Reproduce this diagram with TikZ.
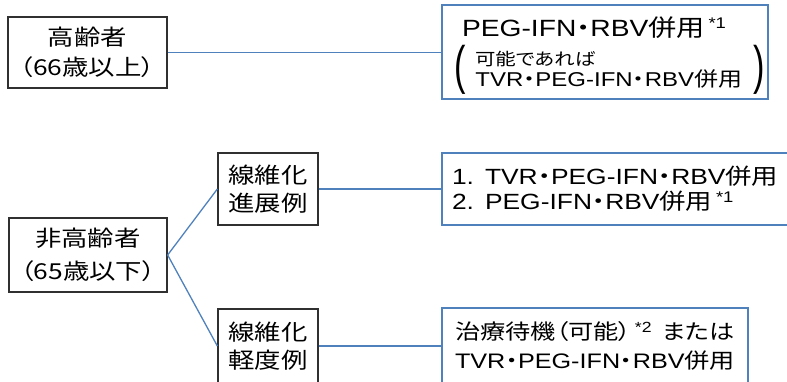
\documentclass[tikz,border=0pt]{standalone}
\usepackage{fontspec}
\setmainfont[FakeStretch=1.2]{Liberation Sans}
\newfontfamily\jpfont[FakeStretch=1.2,RawFeature=+palt]{Noto Sans CJK JP}
\usetikzlibrary{positioning}
\definecolor{lineBlue}{HTML}{4F81BD}
\definecolor{boxGray}{HTML}{303030}
\newcommand{\jp}[1]{{\jpfont #1}}
\newcommand{\jdot}{\jp{・}}
% tall bracket for the optional line pair
\newcommand{\tallparen}[1]{\raisebox{3pt}[0pt][0pt]{\scalebox{1.3}[2.4]{#1}}}

\begin{document}
\begin{tikzpicture}[x=1pt, y=-1pt,
        catbox/.style={draw=boxGray, line width=1.3pt, align=center, inner sep=0pt,
                       font=\jpfont\fontsize{22}{30}\selectfont},
        txbox/.style={draw=lineBlue, line width=1.6pt, align=left, inner ysep=0pt,
                      font=\fontsize{22}{25}\selectfont},
        conn/.style={lineBlue, line width=1.3pt},
    ]
        \useasboundingbox (0,0) rectangle (787,381);

        % left column
        \node[catbox, minimum width=159pt, minimum height=71pt] (old) at (87.5,52.5) {高齢者\\（66歳以上）};
        \node[catbox, minimum width=158pt, minimum height=74pt, font=\jpfont\fontsize{22}{33}\selectfont] (young) at (88,255) {非高齢者\\（65歳以下）};

        % fibrosis
        \node[catbox, minimum width=100pt, minimum height=72pt, font=\jpfont\fontsize{22}{28}\selectfont] (adv) at (268,189) {線維化\\進展例};
        \node[catbox, minimum width=100pt, minimum height=74pt, font=\jpfont\fontsize{22}{28}\selectfont] (mild) at (268,346) {線維化\\軽度例};

        % treatments
        \node[txbox, minimum width=326pt, minimum height=94pt, inner xsep=12pt, text width=302pt] (oldtx) at (605,52)
            {\mbox{\hspace*{8pt}{\fontsize{23.5}{25}\selectfont PEG-IFN\jdot RBV\jp{併用}}\,\textsuperscript{*1}}\\[4pt]
             \mbox{\hspace*{21pt}\fontsize{17}{20}\selectfont\jp{可能であれば}}\\[-4pt]
             \mbox{\tallparen{(}\hspace*{10pt}{\fontsize{20}{25}\selectfont TVR\jdot PEG-IFN\jdot RBV\jp{併用}}\hspace{11pt}\tallparen{)}}};
        \node[txbox, minimum width=350pt, minimum height=72pt, inner xsep=10pt, text width=330pt] (advtx) at (617,189)
            {\mbox{1. TVR\jdot PEG-IFN\jdot RBV\jp{併用}}\\ \mbox{2. PEG-IFN\jdot RBV\jp{併用}\,\textsuperscript{*1}}};
        \node[txbox, minimum width=306pt, minimum height=76pt, inner xsep=13pt, text width=280pt,
              font=\fontsize{21}{29}\selectfont] (mildtx) at (595,346)
            {\mbox{\jp{治療待機（可能）}\,\textsuperscript{*2}\hspace{10pt}\jp{または}}\\ \mbox{TVR\jdot PEG-IFN\jdot RBV\jp{併用}}};

        \draw[conn] (old.east) -- (old.east -| oldtx.west);
        \draw[conn] (young.east) -- (adv.west);
        \draw[conn] (young.east) -- (mild.west);
        \draw[conn] (adv.east) -- (adv.east -| advtx.west);
        \draw[conn] (mild.east) -- (mild.east -| mildtx.west);
    \end{tikzpicture}
\end{document}
